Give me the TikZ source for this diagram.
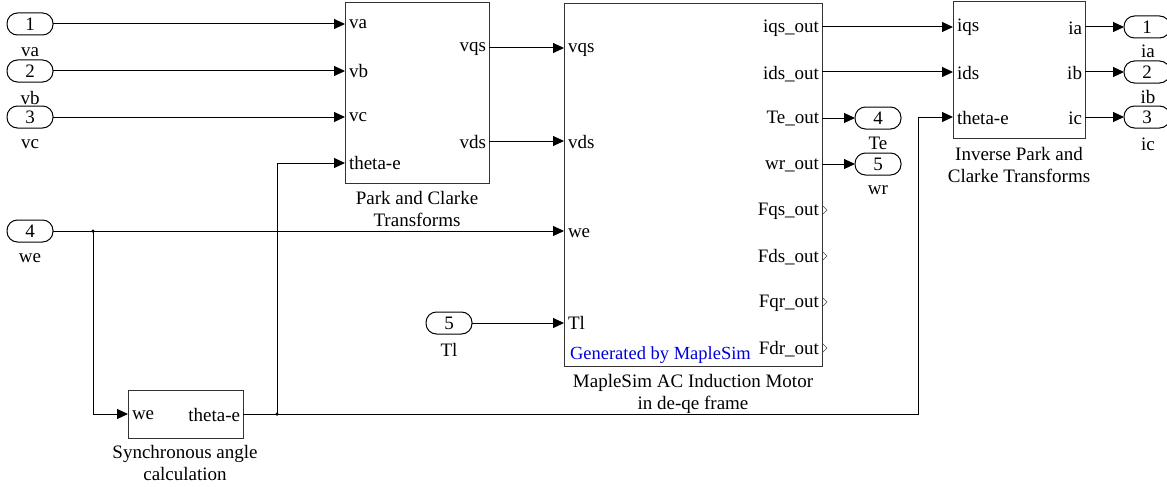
\documentclass[tikz,border=0pt]{standalone}
\usepackage{fontspec}
\setmainfont{Liberation Serif}
\usetikzlibrary{arrows.meta}
\begin{document}
\begin{tikzpicture}[x=1pt,y=-1pt,
  every node/.style={font=\fontsize{19}{22}\selectfont, inner sep=0pt, outer sep=0pt},
  blk/.style={draw=black!80, line width=1pt, fill=white, anchor=north west},
  port/.style={draw=black, line width=1pt, rounded corners=10.5pt, minimum width=46pt, minimum height=22pt},
  conn/.style={line width=1pt, -{Triangle[length=11pt,width=10pt]}},
  wire/.style={line width=1pt},
  inlbl/.style={anchor=west},
  outlbl/.style={anchor=east},
  blkcaption/.style={align=center, anchor=north},
  opentip/.style={draw=black!70, line width=0.6pt},
  dot/.style={circle, fill=black, minimum size=3.5pt}
]
\useasboundingbox (0,0) rectangle (1167,487);

% ---------- blocks ----------
\node[blk, minimum width=144pt, minimum height=180pt] (pc) at (345,3) {};
\node[blk, minimum width=258pt, minimum height=362pt] (mot) at (564,4) {};
\node[blk, minimum width=132pt, minimum height=136pt] (ipc) at (953,2) {};
\node[blk, minimum width=115pt, minimum height=48pt] (sync) at (128,390) {};

% block captions
\node[blkcaption] (pccap) at (417,191) {Park and Clarke\\Transforms};
\node[blkcaption] (motcap) at (693,374) {MapleSim AC Induction Motor\\in de-qe frame};
\node[blkcaption] (ipccap) at (1019,147) {Inverse Park and\\Clarke Transforms};
\node[blkcaption] (synccap) at (185,445) {Synchronous angle\\calculation};

% port labels of Park block
\node[inlbl] (pc-l1) at (349,24) {va};
\node[inlbl] (pc-l2) at (349,71) {vb};
\node[inlbl] (pc-l3) at (349,117) {vc};
\node[inlbl] (pc-l4) at (349,163) {theta-e};
\node[outlbl] (pc-o1) at (486,49) {vqs};
\node[outlbl] (pc-o2) at (486,142) {vds};

% port labels of motor block
\node[inlbl] (m-l1) at (568,50) {vqs};
\node[inlbl] (m-l2) at (568,142) {vds};
\node[inlbl] (m-l3) at (568,233) {we};
\node[inlbl] (m-l4) at (568,323) {Tl};
\node[outlbl] (m-o1) at (819,28) {iqs\_out};
\node[outlbl] (m-o2) at (819,74) {ids\_out};
\node[outlbl] (m-o3) at (819,119) {Te\_out};
\node[outlbl] (m-o4) at (819,165) {wr\_out};
\node[outlbl] (m-o5) at (819,211) {Fqs\_out};
\node[outlbl] (m-o6) at (819,257) {Fds\_out};
\node[outlbl] (m-o7) at (819,303) {Fqr\_out};
\node[outlbl] (m-o8) at (819,349) {Fdr\_out};
\node[anchor=west, text=blue!85!black, font=\fontsize{18.5}{21}\selectfont] (gen) at (570,355) {Generated by MapleSim};

% port labels of inverse block
\node[inlbl] (i-l1) at (957,27) {iqs};
\node[inlbl] (i-l2) at (957,73) {ids};
\node[inlbl] (i-l3) at (957,118) {theta-e};
\node[outlbl] (i-o1) at (1082,28) {ia};
\node[outlbl] (i-o2) at (1082,73) {ib};
\node[outlbl] (i-o3) at (1082,118) {ic};

% port labels of sync block
\node[inlbl] (s-l1) at (132,415) {we};
\node[outlbl] (s-o1) at (240,415) {theta-e};

% ---------- inports / outports ----------
\node[port] (in1) at (30,24) {1};
\node (in1n) at (30,52) {va};
\node[port] (in2) at (30,71) {2};
\node (in2n) at (30,98) {vb};
\node[port] (in3) at (30,117) {3};
\node (in3n) at (30,144) {vc};
\node[port] (in4) at (30,231) {4};
\node (in4n) at (30,258) {we};
\node[port] (in5) at (449,323) {5};
\node (in5n) at (449,350) {Tl};

\node[port] (out4) at (878,118) {4};
\node (out4n) at (878,143) {Te};
\node[port] (out5) at (878,164) {5};
\node (out5n) at (878,190) {wr};

\node[port] (oia) at (1147,27) {1};
\node (oian) at (1148,51) {ia};
\node[port] (oib) at (1147,72) {2};
\node (oibn) at (1148,97) {ib};
\node[port] (oic) at (1147,117) {3};
\node (oicn) at (1148,144) {ic};

% ---------- port coordinates ----------
\coordinate (pc-va) at (345,24);
\coordinate (pc-vb) at (345,71);
\coordinate (pc-vc) at (345,117);
\coordinate (pc-th) at (345,163);
\coordinate (pc-vqs) at (489,48);
\coordinate (pc-vds) at (489,141);
\coordinate (m-vqs) at (564,48);
\coordinate (m-vds) at (564,141);
\coordinate (m-we) at (564,231);
\coordinate (m-tl) at (564,323);
\coordinate (m-iqs) at (822,27);
\coordinate (m-ids) at (822,72);
\coordinate (m-te) at (822,118);
\coordinate (m-wr) at (822,164);
\coordinate (i-iqs) at (953,27);
\coordinate (i-ids) at (953,72);
\coordinate (i-th) at (953,117);
\coordinate (i-ia) at (1085,27);
\coordinate (i-ib) at (1085,72);
\coordinate (i-ic) at (1085,117);
\coordinate (s-we) at (128,414);
\coordinate (s-th) at (243,414);
\coordinate (jwe) at (93,231);
\coordinate (jth) at (277,414);
\coordinate (bend) at (918,117);

% ---------- connectors ----------
\draw[conn] (in1.east) -- (pc-va);
\draw[conn] (in2.east) -- (pc-vb);
\draw[conn] (in3.east) -- (pc-vc);
\draw[conn] (pc-vqs) -- (m-vqs);
\draw[conn] (pc-vds) -- (m-vds);
\draw[conn] (in4.east) -- (m-we);
\draw[conn] (jwe) |- (s-we);
\draw[wire] (s-th) -- (jth);
\draw[conn] (jth) |- (pc-th);
\draw[conn] (jth) -| (bend) -- (i-th);
\draw[conn] (in5.east) -- (m-tl);
\draw[conn] (m-iqs) -- (i-iqs);
\draw[conn] (m-ids) -- (i-ids);
\draw[conn] (m-te) -- (out4.west);
\draw[conn] (m-wr) -- (out5.west);
\draw[conn] (i-ia) -- (oia.west);
\draw[conn] (i-ib) -- (oib.west);
\draw[conn] (i-ic) -- (oic.west);

\node[dot] (d1) at (jwe) {};
\node[dot] (d2) at (jth) {};

% open output markers
\foreach \yy in {210,256,302,348} {
  \draw[opentip] (823,\yy-4) -- (827,\yy) -- (823,\yy+4);
}
\end{tikzpicture}
\end{document}
